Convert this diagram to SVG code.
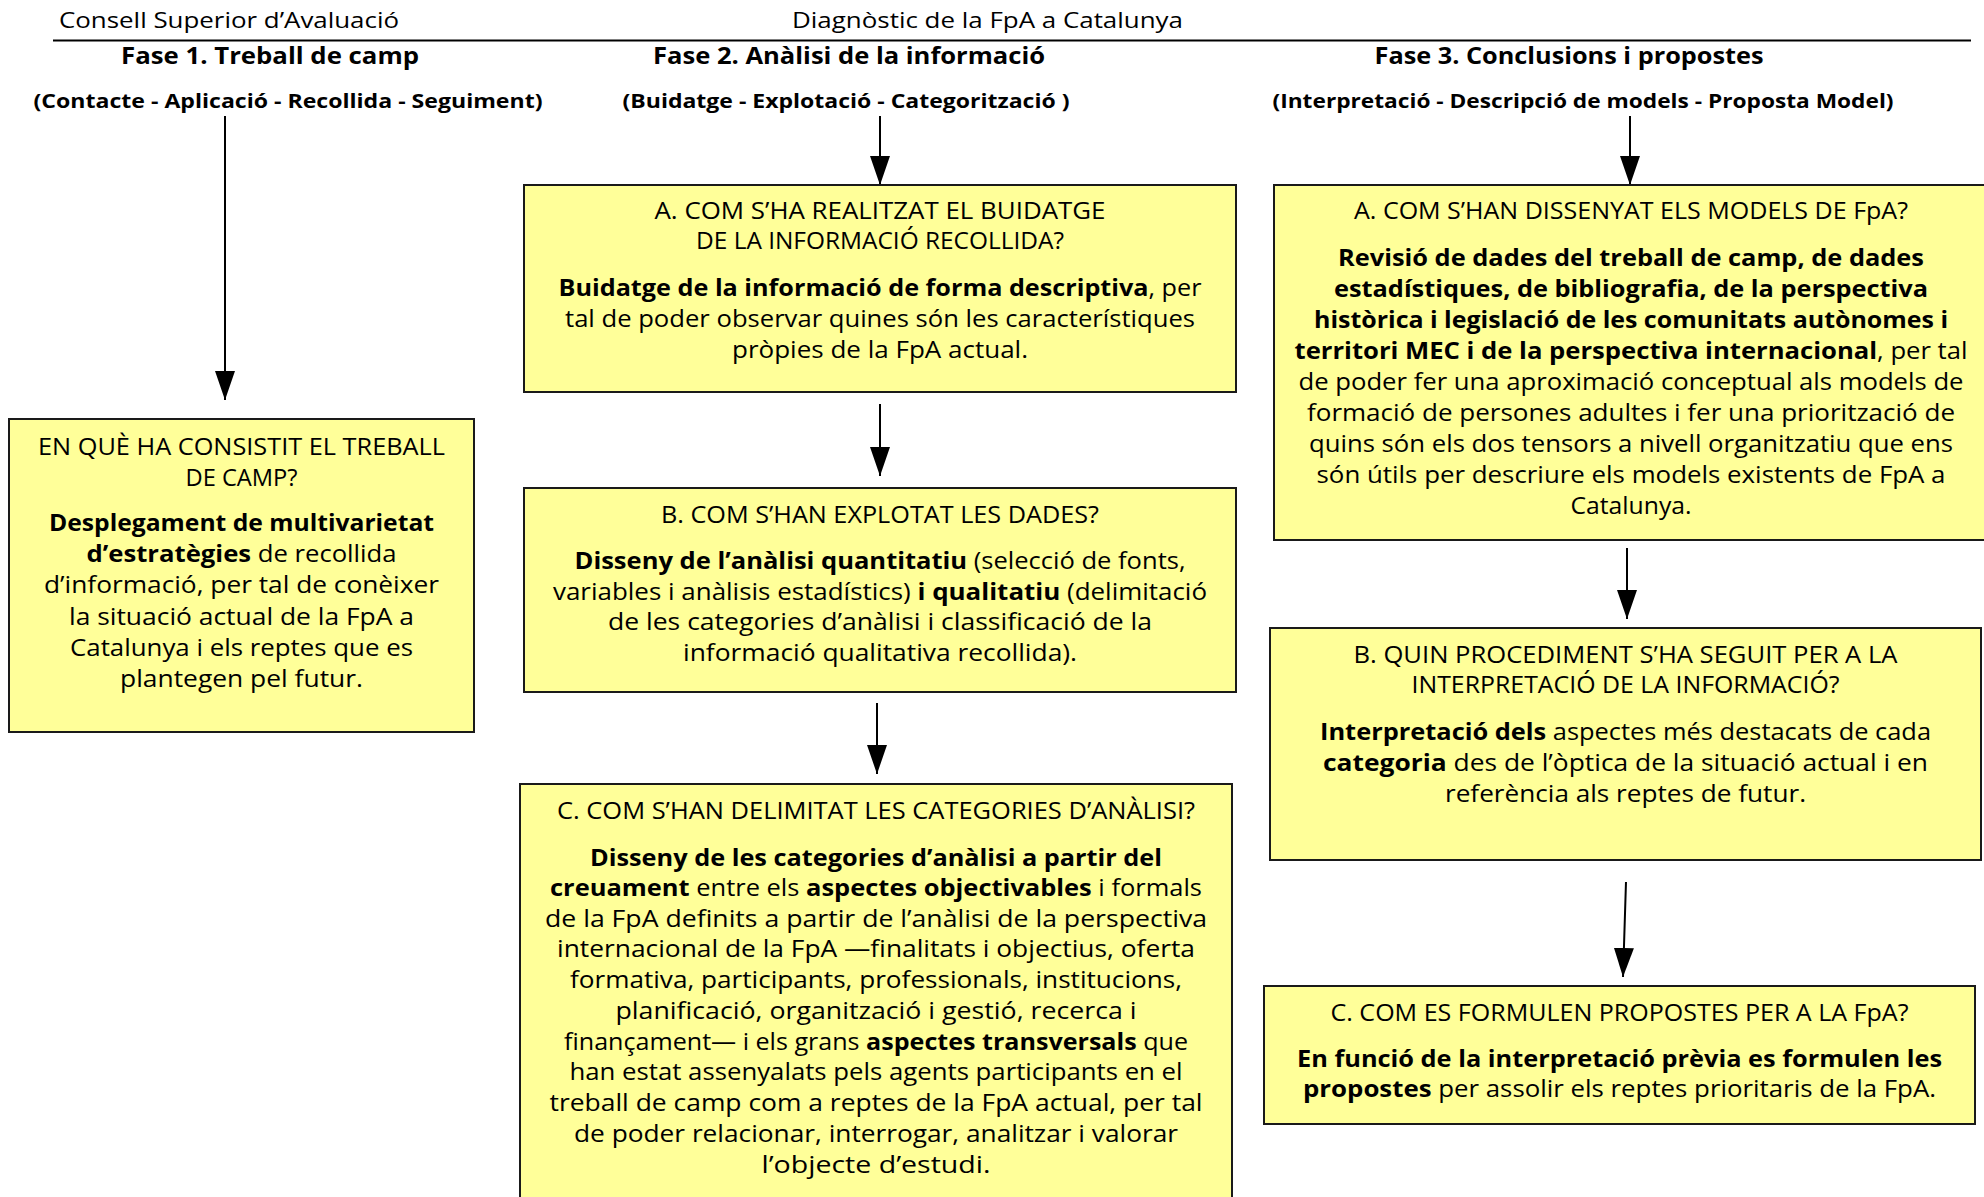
<svg xmlns="http://www.w3.org/2000/svg" width="1984" height="1197" viewBox="0 0 1984 1197">
<defs>
<marker id="ah" markerUnits="userSpaceOnUse" markerWidth="29" markerHeight="20" viewBox="0 0 29 20" refX="29" refY="10" orient="auto">
<path d="M0,0 L29,10 L0,20 Z" fill="#000"/>
</marker>
<style>
text{font-family:"Open Sans","Noto Sans","Liberation Sans",sans-serif;fill:#000;}
.hd{font-size:22px;}
.ph{font-size:23px;font-weight:bold;text-anchor:middle;}
.sb{font-size:20px;font-weight:bold;text-anchor:middle;}
.box{fill:#FFFF99;stroke:#1a1a1a;stroke-width:2;}
.t{font-size:24px;text-anchor:middle;}
.b{font-weight:bold;}
.cn{stroke:#000;stroke-width:2;fill:none;}
</style>
</defs>
<rect width="1984" height="1197" fill="#fff"/>
<g id="header">
<text class="hd" x="59" y="28" textLength="340" lengthAdjust="spacingAndGlyphs">Consell Superior d’Avaluació</text>
<text class="hd" x="792" y="28" textLength="391" lengthAdjust="spacingAndGlyphs">Diagnòstic de la FpA a Catalunya</text>
<line x1="53" y1="40.5" x2="1971" y2="40.5" stroke="#000" stroke-width="2"/>
<text class="ph" x="270" y="64" textLength="298" lengthAdjust="spacingAndGlyphs">Fase 1. Treball de camp</text>
<text class="ph" x="849" y="64" textLength="392" lengthAdjust="spacingAndGlyphs">Fase 2. Anàlisi de la informació</text>
<text class="ph" x="1569" y="64" textLength="389" lengthAdjust="spacingAndGlyphs">Fase 3. Conclusions i propostes</text>
<text class="sb" x="288" y="108" textLength="509" lengthAdjust="spacingAndGlyphs">(Contacte - Aplicació - Recollida - Seguiment)</text>
<text class="sb" x="846" y="108" textLength="447" lengthAdjust="spacingAndGlyphs">(Buidatge - Explotació - Categorització )</text>
<text class="sb" x="1583" y="108" textLength="621" lengthAdjust="spacingAndGlyphs">(Interpretació - Descripció de models - Proposta Model)</text>
</g>
<g id="connectors">
<line class="cn" x1="225" y1="116" x2="225" y2="400" marker-end="url(#ah)"/>
<line class="cn" x1="880" y1="116" x2="880" y2="185" marker-end="url(#ah)"/>
<line class="cn" x1="880" y1="404" x2="880" y2="476" marker-end="url(#ah)"/>
<line class="cn" x1="877" y1="703" x2="877" y2="774" marker-end="url(#ah)"/>
<line class="cn" x1="1630" y1="116" x2="1630" y2="185" marker-end="url(#ah)"/>
<line class="cn" x1="1627" y1="548" x2="1627" y2="619" marker-end="url(#ah)"/>
<line class="cn" x1="1626" y1="882" x2="1623" y2="977" marker-end="url(#ah)"/>
</g>
<g id="box1">
<rect class="box" x="9" y="419" width="465" height="313"/>
<text class="t" x="241.5" y="455" textLength="407" lengthAdjust="spacingAndGlyphs">EN QUÈ HA CONSISTIT EL TREBALL</text>
<text class="t" x="241.5" y="486" textLength="112" lengthAdjust="spacingAndGlyphs">DE CAMP?</text>
<text class="t b" x="241.5" y="531" textLength="385" lengthAdjust="spacingAndGlyphs">Desplegament de multivarietat</text>
<text class="t" x="241.5" y="562" textLength="310" lengthAdjust="spacingAndGlyphs"><tspan class="b">d’estratègies</tspan> de recollida</text>
<text class="t" x="241.5" y="593" textLength="395" lengthAdjust="spacingAndGlyphs">d’informació, per tal de conèixer</text>
<text class="t" x="241.5" y="625" textLength="345" lengthAdjust="spacingAndGlyphs">la situació actual de la FpA a</text>
<text class="t" x="241.5" y="656" textLength="343" lengthAdjust="spacingAndGlyphs">Catalunya i els reptes que es</text>
<text class="t" x="241.5" y="687" textLength="243" lengthAdjust="spacingAndGlyphs">plantegen pel futur.</text>
</g>
<g id="box2a">
<rect class="box" x="524" y="185" width="712" height="207"/>
<text class="t" x="880" y="219" textLength="451" lengthAdjust="spacingAndGlyphs">A. COM S’HA REALITZAT EL BUIDATGE</text>
<text class="t" x="880" y="249" textLength="368" lengthAdjust="spacingAndGlyphs">DE LA INFORMACIÓ RECOLLIDA?</text>
<text class="t" x="880" y="296" textLength="643" lengthAdjust="spacingAndGlyphs"><tspan class="b">Buidatge de la informació de forma descriptiva</tspan>, per</text>
<text class="t" x="880" y="327" textLength="630" lengthAdjust="spacingAndGlyphs">tal de poder observar quines són les característiques</text>
<text class="t" x="880" y="358" textLength="296" lengthAdjust="spacingAndGlyphs">pròpies de la FpA actual.</text>
</g>
<g id="box2b">
<rect class="box" x="524" y="488" width="712" height="204"/>
<text class="t" x="880" y="523" textLength="438" lengthAdjust="spacingAndGlyphs">B. COM S’HAN EXPLOTAT LES DADES?</text>
<text class="t" x="880" y="569" textLength="611" lengthAdjust="spacingAndGlyphs"><tspan class="b">Disseny de l’anàlisi quantitatiu</tspan> (selecció de fonts,</text>
<text class="t" x="880" y="600" textLength="654" lengthAdjust="spacingAndGlyphs">variables i anàlisis estadístics) <tspan class="b">i qualitatiu</tspan> (delimitació</text>
<text class="t" x="880" y="630" textLength="544" lengthAdjust="spacingAndGlyphs">de les categories d’anàlisi i classificació de la</text>
<text class="t" x="880" y="661" textLength="394" lengthAdjust="spacingAndGlyphs">informació qualitativa recollida).</text>
</g>
<g id="box2c">
<rect class="box" x="520" y="784" width="712" height="430"/>
<text class="t" x="876" y="819" textLength="638" lengthAdjust="spacingAndGlyphs">C. COM S’HAN DELIMITAT LES CATEGORIES D’ANÀLISI?</text>
<text class="t b" x="876" y="866" textLength="572" lengthAdjust="spacingAndGlyphs">Disseny de les categories d’anàlisi a partir del</text>
<text class="t" x="876" y="896" textLength="652" lengthAdjust="spacingAndGlyphs"><tspan class="b">creuament</tspan> entre els <tspan class="b">aspectes objectivables</tspan> i formals</text>
<text class="t" x="876" y="927" textLength="662" lengthAdjust="spacingAndGlyphs">de la FpA definits a partir de l’anàlisi de la perspectiva</text>
<text class="t" x="876" y="957" textLength="638" lengthAdjust="spacingAndGlyphs">internacional de la FpA —finalitats i objectius, oferta</text>
<text class="t" x="876" y="988" textLength="612" lengthAdjust="spacingAndGlyphs">formativa, participants, professionals, institucions,</text>
<text class="t" x="876" y="1019" textLength="521" lengthAdjust="spacingAndGlyphs">planificació, organització i gestió, recerca i</text>
<text class="t" x="876" y="1050" textLength="624" lengthAdjust="spacingAndGlyphs">finançament— i els grans <tspan class="b">aspectes transversals</tspan> que</text>
<text class="t" x="876" y="1080" textLength="613" lengthAdjust="spacingAndGlyphs">han estat assenyalats pels agents participants en el</text>
<text class="t" x="876" y="1111" textLength="653" lengthAdjust="spacingAndGlyphs">treball de camp com a reptes de la FpA actual, per tal</text>
<text class="t" x="876" y="1142" textLength="604" lengthAdjust="spacingAndGlyphs">de poder relacionar, interrogar, analitzar i valorar</text>
<text class="t" x="876" y="1173" textLength="229" lengthAdjust="spacingAndGlyphs">l’objecte d’estudi.</text>
</g>
<g id="box3a">
<rect class="box" x="1274" y="185" width="714" height="355"/>
<text class="t" x="1631" y="219" textLength="554" lengthAdjust="spacingAndGlyphs">A. COM S’HAN DISSENYAT ELS MODELS DE FpA?</text>
<text class="t b" x="1631" y="266" textLength="586" lengthAdjust="spacingAndGlyphs">Revisió de dades del treball de camp, de dades</text>
<text class="t b" x="1631" y="297" textLength="594" lengthAdjust="spacingAndGlyphs">estadístiques, de bibliografia, de la perspectiva</text>
<text class="t b" x="1631" y="328" textLength="634" lengthAdjust="spacingAndGlyphs">històrica i legislació de les comunitats autònomes i</text>
<text class="t" x="1631" y="359" textLength="673" lengthAdjust="spacingAndGlyphs"><tspan class="b">territori MEC i de la perspectiva internacional</tspan>, per tal</text>
<text class="t" x="1631" y="390" textLength="665" lengthAdjust="spacingAndGlyphs">de poder fer una aproximació conceptual als models de</text>
<text class="t" x="1631" y="421" textLength="648" lengthAdjust="spacingAndGlyphs">formació de persones adultes i fer una priorització de</text>
<text class="t" x="1631" y="452" textLength="644" lengthAdjust="spacingAndGlyphs">quins són els dos tensors a nivell organitzatiu que ens</text>
<text class="t" x="1631" y="483" textLength="629" lengthAdjust="spacingAndGlyphs">són útils per descriure els models existents de FpA a</text>
<text class="t" x="1631" y="514" textLength="121" lengthAdjust="spacingAndGlyphs">Catalunya.</text>
</g>
<g id="box3b">
<rect class="box" x="1270" y="628" width="711" height="232"/>
<text class="t" x="1625.5" y="663" textLength="544" lengthAdjust="spacingAndGlyphs">B. QUIN PROCEDIMENT S’HA SEGUIT PER A LA</text>
<text class="t" x="1625.5" y="693" textLength="428" lengthAdjust="spacingAndGlyphs">INTERPRETACIÓ DE LA INFORMACIÓ?</text>
<text class="t" x="1625.5" y="740" textLength="611" lengthAdjust="spacingAndGlyphs"><tspan class="b">Interpretació dels</tspan> aspectes més destacats de cada</text>
<text class="t" x="1625.5" y="771" textLength="605" lengthAdjust="spacingAndGlyphs"><tspan class="b">categoria</tspan> des de l’òptica de la situació actual i en</text>
<text class="t" x="1625.5" y="802" textLength="361" lengthAdjust="spacingAndGlyphs">referència als reptes de futur.</text>
</g>
<g id="box3c">
<rect class="box" x="1264" y="986" width="711" height="138"/>
<text class="t" x="1619.5" y="1021" textLength="578" lengthAdjust="spacingAndGlyphs">C. COM ES FORMULEN PROPOSTES PER A LA FpA?</text>
<text class="t b" x="1619.5" y="1067" textLength="645" lengthAdjust="spacingAndGlyphs">En funció de la interpretació prèvia es formulen les</text>
<text class="t" x="1619.5" y="1097" textLength="633" lengthAdjust="spacingAndGlyphs"><tspan class="b">propostes</tspan> per assolir els reptes prioritaris de la FpA.</text>
</g>
</svg>
